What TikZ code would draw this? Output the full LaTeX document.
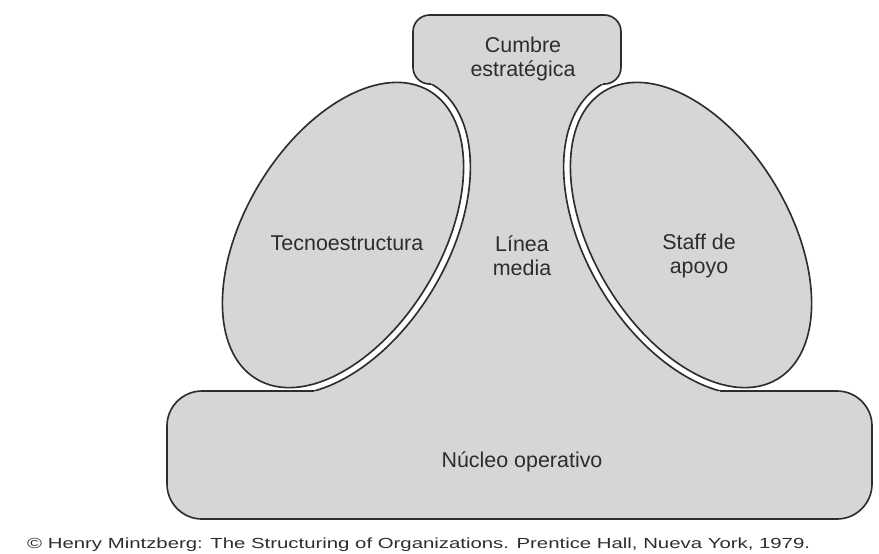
\documentclass[tikz,border=0pt]{standalone}
\usepackage{fontspec}
\setmainfont{Liberation Sans}
\newfontfamily\creditfont[FakeStretch=1.39]{Liberation Sans}
\usetikzlibrary{shapes.geometric}
\definecolor{partgray}{RGB}{214,214,214}
\definecolor{ink}{RGB}{45,45,45}
\tikzset{
lobe/.style={ellipse,draw=ink,fill=partgray,line width=1.4pt,inner sep=0pt,minimum width=10.08cm,minimum height=5.88cm},
lobegap/.style={ellipse,draw=ink,fill=white,line width=1.4pt,inner sep=0pt,minimum width=10.5cm,minimum height=6.3cm},
rim/.style={draw=ink,line width=1.4pt},
tag/.style={font=\fontsize{18.3pt}{20.8pt}\selectfont,text=ink,align=center,inner sep=0pt},
credit/.style={font=\creditfont\fontsize{12.5pt}{14pt}\selectfont,text=ink,inner sep=0pt,anchor=base west}
}

\begin{document}
\begin{tikzpicture}[x=0.03cm,y=-0.03cm]
\useasboundingbox (0,0) rectangle (879,553);
\fill[partgray,rounded corners=0.5cm] (413,15) rectangle (621,84);
\fill[partgray,rounded corners=1.05cm] (167,391) rectangle (872,519);
\fill[partgray] (420,84) -- (614,84) -- (734,391) -- (720,393) -- (314,393) -- (300,391) -- cycle;
\begin{scope}
\clip (420,84) -- (600,84) -- (600,391) -- (300,391) -- cycle;
\node[lobegap,rotate=59] (tecnogap) at (343,235) {};
\end{scope}
\begin{scope}
\clip (614,84) -- (434,84) -- (434,391) -- (734,391) -- cycle;
\node[lobegap,rotate=-59] (staffgap) at (691,235) {};
\end{scope}
\draw[rim,rounded corners=0.5cm] (431,84) -- (413,84) -- (413,15) -- (621,15) -- (621,84) -- (603,84);
\draw[rim,rounded corners=1.05cm] (314,391) -- (167,391) -- (167,519) -- (872,519) -- (872,391) -- (720,391);
\node[lobe,rotate=59] (tecno) at (343,235) {};
\node[lobe,rotate=-59] (staff) at (691,235) {};

\node[tag] (apex) at (523,59) {Cumbre\\estratégica};
\node[tag] (tecnotxt) at (347,243) {Tecnoestructura};
\node[tag] (middle) at (522,256) {Línea\\media};
\node[tag] (stafftxt) at (699,256) {Staff de\\apoyo};
\node[tag] (core) at (522,462) {Núcleo operativo};
\node[credit] (source) at (27,548) {© Henry Mintzberg: The Structuring of Organizations. Prentice Hall, Nueva York, 1979.};
\end{tikzpicture}
\end{document}
